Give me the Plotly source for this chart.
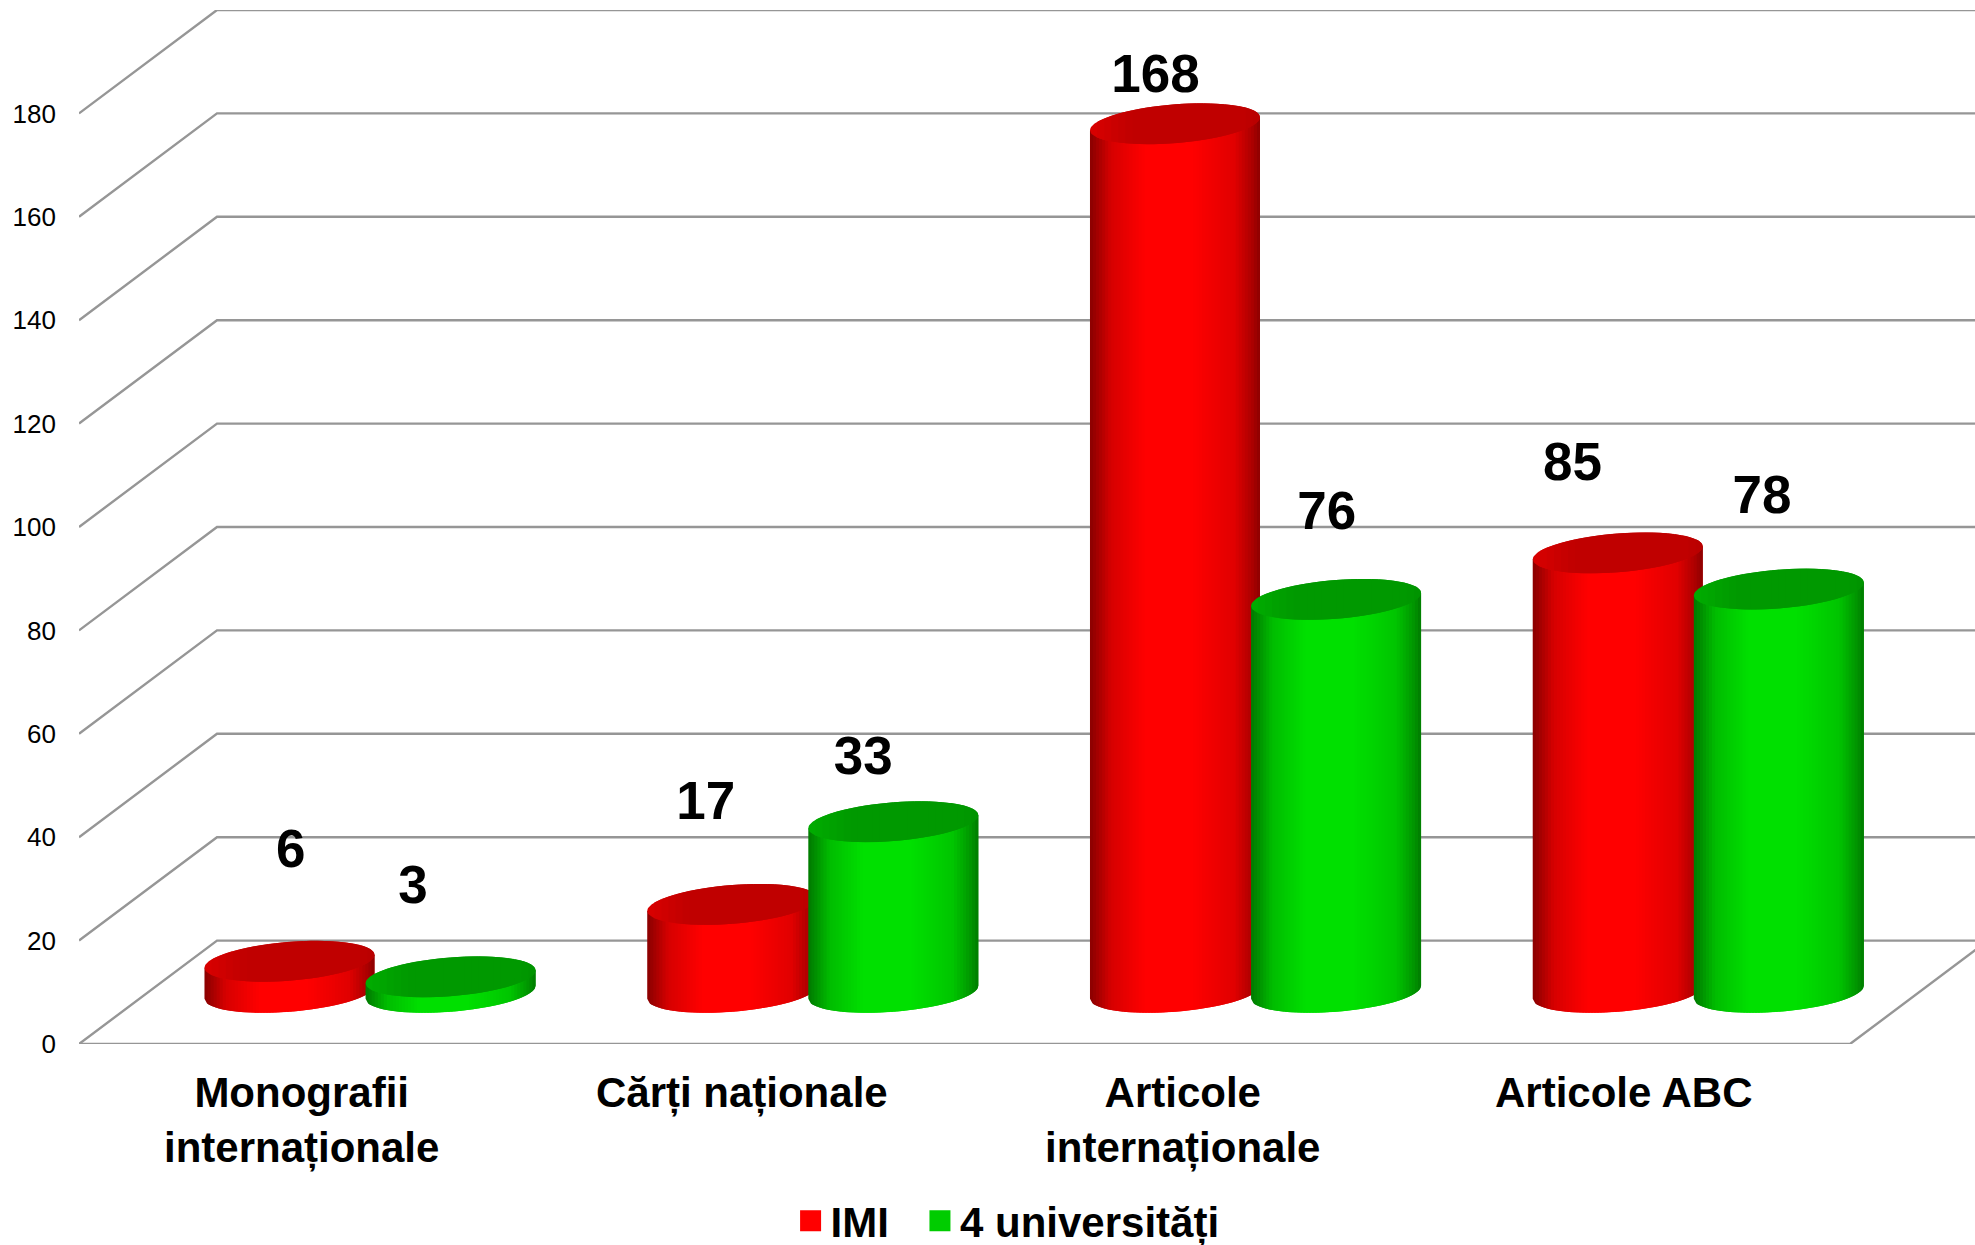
import numpy as np
import plotly.graph_objects as go

# ---- data ----
categories = ["Monografii<br>internaționale", "Cărți naționale", "Articole<br>internaționale", "Articole ABC"]
series_names = ["IMI", "4 universități"]
imi_values = [6, 17, 168, 85]
univ_values = [3, 33, 76, 78]
y_ticks = [0, 20, 40, 60, 80, 100, 120, 140, 160, 180]

# label nudges around each cylinder top (x in category units, y in value units)
imi_label_dx = [0.003, -0.06, -0.044, -0.102]
imi_label_dy = [20.75, 19.05, 8.75, 16.65]
univ_label_dx = [-0.085, -0.068, -0.021, -0.038]
univ_label_dy = [16.75, 11.75, 16.15, 17.25]
tick_nudge = [0.003, -0.003, -0.007, -0.011]

# ---- geometry of the pseudo-3D scene ----
W, H = 1975, 1245
M_L, M_T, M_B = 79, 10, 201.3
X_RANGE = [-0.5, (W - M_L) / 442.75 - 0.5]
Y_RANGE = [0, 200]
PX_X = 442.75
PX_Y = (H - M_T - M_B) / (Y_RANGE[1] - Y_RANGE[0])
DEPTH_Y = 20
DEPTH_X = 138 / PX_X
FLOOR = 10
RIGHT_FRONT = 3.5
GROUP_SHIFT = [-0.0246, 0.3392]
HALF_W = 85
TILT = 6.5
HALF_H = 19.4
N_BANDS = 56
N_TOP_BANDS = 24
GRID = "#969696"

stops_u = [-1, -0.93, -0.75, -0.35, 0.2, 0.7, 0.92, 1]
stops_i = [0.54, 0.62, 0.84, 1.0, 1.0, 0.88, 0.66, 0.55]
top_stops_u = [-1, -0.5, 0.8, 1]
top_stops_i = [1.13, 1.0, 1.0, 0.96]


def shade(base, i):
    return "rgb(%d,%d,%d)" % tuple(min(255, int(round(c * i))) for c in base)


def half_height(d):
    return HALF_H * np.sqrt(np.clip(1 - d * d, 0, 1))


def band_polys(centers, values, u0, u1):
    xs, ys = [], []
    for cx, v in zip(centers, values):
        d = np.linspace(u0, u1, 6)
        bottom = FLOOR + (TILT * d - half_height(d)) / PX_Y
        top = v + FLOOR + TILT * d[::-1] / PX_Y
        xs += list(cx + d * HALF_W / PX_X) + list(cx + d[::-1] * HALF_W / PX_X) + [None]
        ys += list(bottom) + list(top) + [None]
    return xs, ys


def top_polys(centers, values, u0, u1):
    xs, ys = [], []
    for cx, v in zip(centers, values):
        d = np.cos(np.linspace(np.arccos(u0), np.arccos(u1), 12))
        lower = v + FLOOR + (TILT * d - half_height(d)) / PX_Y
        upper = v + FLOOR + (TILT * d[::-1] + half_height(d[::-1])) / PX_Y
        xs += list(cx + d * HALF_W / PX_X) + list(cx + d[::-1] * HALF_W / PX_X) + [None]
        ys += list(lower) + list(upper) + [None]
    return xs, ys


fig = go.Figure()

# walls and floor
gx, gy = [], []
for v in y_ticks:
    gx += [X_RANGE[0], X_RANGE[0] + DEPTH_X, X_RANGE[1], None]
    gy += [v, v + DEPTH_Y, v + DEPTH_Y, None]
gx += [X_RANGE[0], RIGHT_FRONT, RIGHT_FRONT + DEPTH_X]
gy += [0, 0, DEPTH_Y]
fig.add_trace(go.Scatter(x=gx, y=gy, mode="lines", line=dict(color=GRID, width=2.4),
                         showlegend=False, hoverinfo="skip"))

# cylinders
positions = np.arange(len(categories))
series = [
    (imi_values, (255, 0, 0), (192, 0, 0), GROUP_SHIFT[0]),
    (univ_values, (0, 224, 0), (0, 153, 0), GROUP_SHIFT[1]),
]
edges = np.linspace(-1, 1, N_BANDS + 1)
top_edges = np.linspace(-1, 1, N_TOP_BANDS + 1)
for values, base, top_col, shift in series:
    centers = positions + shift
    for k in range(N_BANDS):
        mid = 0.5 * (edges[k] + edges[k + 1])
        xs, ys = band_polys(centers, values, edges[k], edges[min(k + 2, N_BANDS)])
        fig.add_trace(go.Scatter(x=xs, y=ys, mode="lines", fill="toself",
                                 fillcolor=shade(base, np.interp(mid, stops_u, stops_i)),
                                 line=dict(width=0), showlegend=False, hoverinfo="skip"))
    for k in range(N_TOP_BANDS):
        mid = 0.5 * (top_edges[k] + top_edges[k + 1])
        xs, ys = top_polys(centers, values, top_edges[k], top_edges[min(k + 2, N_TOP_BANDS)])
        fig.add_trace(go.Scatter(x=xs, y=ys, mode="lines", fill="toself",
                                 fillcolor=shade(top_col, np.interp(mid, top_stops_u, top_stops_i)),
                                 line=dict(width=0), showlegend=False, hoverinfo="skip"))

# data labels
for values, shift, ldx, ldy in [
    (imi_values, GROUP_SHIFT[0], imi_label_dx, imi_label_dy),
    (univ_values, GROUP_SHIFT[1], univ_label_dx, univ_label_dy),
]:
    fig.add_trace(go.Scatter(
        x=[p + shift + d for p, d in zip(positions, ldx)],
        y=[v + FLOOR + d for v, d in zip(values, ldy)],
        mode="text", text=[str(v) for v in values], textposition="middle center",
        textfont=dict(family="Liberation Sans", size=53, color="#000000", weight="bold"),
        showlegend=False, hoverinfo="skip", cliponaxis=False))

# legend entries, one legend box per series so that their spacing can match
for name, col, lg in zip(series_names, ["#ff0000", "#00cc00"], ["legend", "legend2"]):
    fig.add_trace(go.Scatter(x=[None], y=[None], mode="markers", name=name, legend=lg,
                             marker=dict(symbol="square", size=16, color=col,
                                         line=dict(color=col, width=5))))

legend_style = dict(orientation="h", yref="container", xref="container",
                    xanchor="left", y=0.0193, yanchor="middle",
                    font=dict(family="Liberation Sans", size=42, color="#000000", weight="bold"),
                    itemwidth=30, bgcolor="rgba(0,0,0,0)")

fig.update_layout(
    width=W, height=H, autosize=False,
    margin=dict(l=M_L, r=0, t=M_T, b=M_B, pad=0),
    paper_bgcolor="white", plot_bgcolor="white",
    font=dict(family="Liberation Sans", color="#000000"),
    xaxis=dict(range=X_RANGE, tickmode="array",
               tickvals=[p + n for p, n in zip(positions, tick_nudge)], ticktext=categories,
               showgrid=False, zeroline=False, showline=False, ticks="",
               ticklabelstandoff=20, tickangle=0,
               tickfont=dict(family="Liberation Sans", size=42, color="#000000", weight="bold")),
    yaxis=dict(range=Y_RANGE, tickmode="array", tickvals=y_ticks,
               showgrid=False, zeroline=False, showline=False, ticks="",
               ticklabelstandoff=22,
               tickfont=dict(family="Liberation Sans", size=26, color="#000000")),
    showlegend=True,
    legend=dict(x=0.4003, **legend_style),
    legend2=dict(x=0.4658, **legend_style),
)

fig.write_html("out.html", config={"displayModeBar": False},
               post_script="document.body.style.margin='0';")
